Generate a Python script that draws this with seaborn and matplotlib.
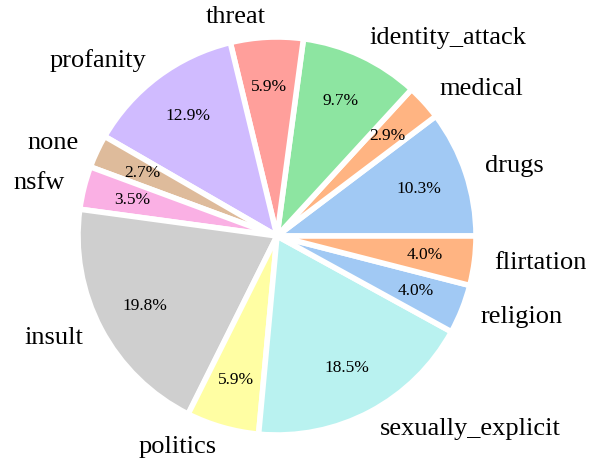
import matplotlib
matplotlib.use("Agg")
import matplotlib.pyplot as plt
import seaborn as sns

labels = ["drugs", "medical", "identity_attack", "threat", "profanity", "none",
          "nsfw", "insult", "politics", "sexually_explicit", "religion", "flirtation"]
values = [10.3, 2.9, 9.7, 5.9, 12.9, 2.7, 3.5, 19.8, 5.9, 18.5, 4.0, 4.0]

sns.set_theme(style="white")
plt.rcParams["font.family"] = ["Liberation Serif", "DejaVu Serif"]
plt.rcParams["text.color"] = "black"

colors = sns.color_palette("pastel", len(values))

fig = plt.figure(figsize=(5.91, 4.58), dpi=100)
ax = fig.add_axes([0, 0, 1, 1])
wedges, texts, autotexts = ax.pie(
    values, labels=labels, colors=colors, autopct="%1.1f%%",
    startangle=0, counterclock=True, pctdistance=0.75, labeldistance=1.1,
    wedgeprops=dict(edgecolor="white", linewidth=4),
    textprops=dict(fontsize=19, color="black"),
)
for t in autotexts:
    t.set_fontsize(12.5)
ax.set_aspect("auto")
R = 199.0
cx, cy = 277.0, 236.0
ax.set_xlim(-cx / R, (591 - cx) / R)
ax.set_ylim(-(458 - cy) / R, cy / R)
ax.axis("off")
fig.savefig("out.png", dpi=100)
